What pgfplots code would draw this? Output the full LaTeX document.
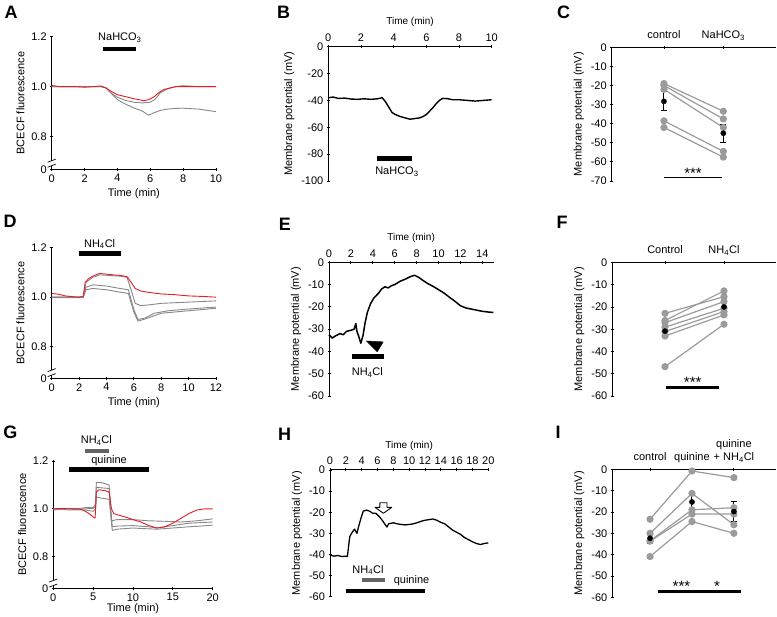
\documentclass[border=0pt]{standalone}
\usepackage{fontspec}
\setmainfont{Liberation Sans}
\usepackage{pgfplots}
\pgfplotsset{compat=1.18}
\newcommand{\fs}{\fontsize{11}{13}\selectfont}
\definecolor{redtr}{RGB}{228,28,36}
\definecolor{graytr}{RGB}{135,135,135}
\definecolor{dotgray}{RGB}{155,155,155}
\definecolor{bargray}{RGB}{100,100,100}
\pgfplotsset{
  pan/.style={scale only axis, clip=false,
    tick style={line width=0.9pt, black},
    tick align=outside, major tick length=3pt,
    /pgf/number format/assume math mode=true,
    tick label style={font=\fs}, label style={font=\fs},
    every axis plot/.append style={line join=round}},
  fluo/.style={pan, axis lines=left, axis line style={draw=none}, ytick={#1,0.8,1.0,1.2},
    yticklabels={0,0.8,1.0,1.2}, ylabel={BCECF fluorescence}, xlabel={Time (min)}},
  memb/.style={pan, axis x line=top, axis y line=left, axis line style={draw=none}, ylabel={Membrane potential (mV)}},
  gtr/.style={graytr, line width=0.9pt},
  rtr/.style={redtr, line width=0.9pt},
  cell/.style={dotgray, line width=1.2pt, mark=*, mark size=3pt, mark options={fill=dotgray, draw=dotgray}},
  meanpt/.style={black, only marks, mark=*, mark size=2.6pt,
    error bars/.cd, y dir=both, y explicit,
    error bar style={black, line width=1pt},
    error mark options={rotate=90, black, mark size=3pt, line width=1pt}},
}
\tikzset{stars/.style={font=\fontsize{15}{15}\selectfont, anchor=base, inner sep=0pt}}
\newcommand{\flines}{\draw[line width=1pt, line cap=rect] (rel axis cs:0,1) -- (rel axis cs:0,0) -- (rel axis cs:1,0);}
\newcommand{\mlines}{\draw[line width=1pt, line cap=rect] (rel axis cs:0,0) -- (rel axis cs:0,1) -- (rel axis cs:1,1);}
\newcommand{\ybreak}[1]{%
  \begin{scope}[shift={(axis cs:0,#1)}]
    \fill[white] (-1.2pt,-2.6pt) rectangle (1.2pt,2.6pt);
    \draw[line width=0.7pt] (-4pt,-4pt)--(4pt,-1pt) (-4pt,1pt)--(4pt,4pt);
  \end{scope}}
\begin{document}
\begin{tikzpicture}
\path[use as bounding box] (0pt,0pt) rectangle (777pt,617pt);
\tikzset{plab/.style={font=\bfseries\fontsize{18}{18}\selectfont}}
\node[plab] at (11pt,604.5pt) {A};
\node[plab] at (283.5pt,605pt) {B};
\node[plab] at (563.5pt,605pt) {C};
\node[plab] at (10pt,395.5pt) {D};
\node[plab] at (285pt,393pt) {E};
\node[plab] at (562pt,395pt) {F};
\node[plab] at (10.5pt,185pt) {G};
\node[plab] at (284.5pt,183pt) {H};
\node[plab] at (558pt,185pt) {I};

% ---------------- A ----------------
\begin{axis}[fluo=0.6696, at={(51.7pt,447.7pt)}, anchor=south west, width=164.3pt, height=132.6pt,
  xmin=0, xmax=10, ymin=0.6696, ymax=1.2, xtick={0,2,...,10}]
\flines
\addplot[gtr] coordinates {(0,1.0) (1,1.0) (2,1.0) (3,1.0) (3.3,0.995) (3.6,0.975) (4,0.948) (4.5,0.93) (5,0.915) (5.5,0.903) (5.9,0.886) (6.2,0.895) (6.6,0.905) (7,0.91) (7.5,0.913) (8,0.914) (8.5,0.912) (9,0.91) (9.5,0.905) (10,0.9)};
\addplot[gtr] coordinates {(0,1.0) (1,1.0) (2,1.0) (3,1.0) (3.3,0.995) (3.6,0.975) (4,0.958) (4.5,0.945) (5,0.938) (5.5,0.935) (6,0.938) (6.3,0.95) (6.6,0.975) (7,0.99) (7.5,1.0) (8,1.004) (8.5,1.002) (9,1.0) (10,1.0)};
\addplot[rtr] coordinates {(0,1.005) (0.5,1.0) (1,1.0) (1.5,1.0) (2,0.998) (2.5,1.0) (3,1.003) (3.3,0.995) (3.6,0.982) (4,0.968) (4.5,0.96) (5,0.952) (5.3,0.948) (5.6,0.944) (5.9,0.948) (6.2,0.958) (6.5,0.975) (6.8,0.988) (7.2,0.995) (7.6,1.0) (8,1.0) (9,1.0) (10,1.0)};
\addplot[black, line width=4.5pt] coordinates {(3.1,1.151) (5.15,1.151)};
\node[font=\fs] at (axis cs:4.15,1.195) {NaHCO\textsubscript{3}};
\ybreak{0.694}
\end{axis}

% ---------------- B ----------------
\begin{axis}[memb, at={(328.3pt,436pt)}, anchor=south west, width=163.4pt, height=134.3pt,
  xmin=0, xmax=10, ymin=-100, ymax=0, xtick={0,2,...,10}, ytick={-100,-80,...,0}, xlabel={Time (min)}]
\mlines
\addplot[black, line width=1.4pt] coordinates {(0,-38) (0.3,-37.5) (0.6,-38.5) (1,-38.3) (1.4,-39) (1.8,-39.2) (2.2,-38.8) (2.6,-39.2) (3,-38.8) (3.3,-38) (3.5,-41) (3.7,-45) (3.9,-49) (4.1,-50.5) (4.4,-52) (4.7,-53) (5,-54) (5.3,-53.5) (5.6,-53) (5.8,-52) (6,-50.5) (6.2,-48) (6.4,-45.5) (6.6,-42.5) (6.8,-40) (7,-38.5) (7.3,-38.7) (7.6,-39.5) (8,-39.5) (8.5,-40) (9,-40.5) (9.5,-40) (10,-39.5)};
\addplot[black, line width=4.5pt] coordinates {(3.0,-83.4) (5.14,-83.4)};
\node[font=\fs] at (axis cs:4.2,-93) {NaHCO\textsubscript{3}};
\end{axis}

% ---------------- C ----------------
\begin{axis}[memb, at={(611.7pt,436pt)}, anchor=south west, width=163.3pt, height=133.7pt,
  xmin=0.12, xmax=2.87, ymin=-70, ymax=0, xtick={1,2}, xticklabels={control\strut,NaHCO\textsubscript{3}\strut}, ytick={-70,-60,...,0}]
\mlines
\addplot[cell] coordinates {(1,-19) (2,-33.5)};
\addplot[cell] coordinates {(1,-20) (2,-37.5)};
\addplot[cell] coordinates {(1,-22) (2,-42)};
\addplot[cell] coordinates {(1,-38.5) (2,-54.5)};
\addplot[cell] coordinates {(1,-42) (2,-57.5)};
\addplot[meanpt] coordinates {(1,-28.3) +- (0,5) (2,-45) +- (0,4.8)};
\addplot[black, line width=1.2pt] coordinates {(1,-68.3) (1.97,-68.3)};
\node[stars] at (axis cs:1.49,-68.6) {***};
\end{axis}

% ---------------- D ----------------
\begin{axis}[fluo=0.672, at={(51.7pt,238.7pt)}, anchor=south west, width=164.3pt, height=130.6pt,
  xmin=0, xmax=12, ymin=0.672, ymax=1.2, xtick={0,2,...,12}]
\flines
\addplot[gtr] coordinates {(0,0.998) (1,0.998) (2,0.998) (2.3,0.999) (2.5,1.03) (3,1.035) (4,1.03) (5,1.02) (5.6,1.015) (6,0.94) (6.3,0.903) (7,0.915) (8,0.935) (9,0.94) (10,0.945) (11,0.95) (12,0.955)};
\addplot[gtr] coordinates {(0,1.0) (1,1.0) (2,1.0) (2.3,1.0) (2.5,1.04) (3,1.05) (4,1.045) (5,1.035) (5.6,1.03) (6,0.95) (6.3,0.91) (6.8,0.915) (7.5,0.935) (8.5,0.945) (10,0.952) (11,0.956) (12,0.96)};
\addplot[gtr] coordinates {(0,1.0) (1,1.0) (2,1.0) (2.3,1.0) (2.5,1.06) (3,1.08) (3.5,1.09) (5,1.085) (5.5,1.08) (5.8,1.03) (6.1,0.975) (6.5,0.966) (7,0.968) (8,0.975) (10,0.98) (12,0.985)};
\addplot[rtr] coordinates {(0,1.015) (0.5,1.012) (1,1.005) (1.5,1.002) (2,1.0) (2.3,1.003) (2.45,1.06) (2.7,1.075) (3,1.085) (3.5,1.096) (4,1.093) (4.5,1.09) (5,1.088) (5.5,1.083) (5.8,1.06) (6.1,1.035) (6.5,1.025) (7,1.02) (8,1.013) (9,1.01) (10,1.005) (11,1.003) (12,1.0)};
\addplot[black, line width=4.5pt] coordinates {(2.0,1.177) (5.04,1.177)};
\node[font=\fs] at (axis cs:3.5,1.215) {NH\textsubscript{4}Cl};
\ybreak{0.695}
\end{axis}

% ---------------- E ----------------
\begin{axis}[memb, at={(329pt,221pt)}, anchor=south west, width=164.3pt, height=133.7pt,
  xmin=0, xmax=15, ymin=-60, ymax=0, xtick={0,2,...,14}, ytick={-60,-50,...,0}, xlabel={Time (min)}]
\mlines
\addplot[black, line width=1.5pt] coordinates {(0,-32.5) (0.3,-34) (0.6,-33) (1,-32) (1.3,-32.5) (1.6,-31) (2,-30.5) (2.3,-30) (2.45,-27.5) (2.55,-31) (2.7,-33) (2.9,-36.3) (3.1,-33) (3.3,-27) (3.5,-22.5) (3.8,-18.5) (4.1,-16) (4.5,-14) (4.8,-12) (5.1,-11) (5.4,-11.5) (5.7,-10.5) (6,-10) (6.5,-8.5) (7,-7.5) (7.4,-6.5) (7.8,-5.8) (8.2,-6.8) (8.6,-8.2) (9,-9.5) (9.5,-10.8) (10,-12.3) (10.5,-13.8) (11,-15.7) (11.5,-17.5) (12,-19.5) (12.5,-20.5) (13,-21) (13.5,-21.5) (14,-22) (14.5,-22.3) (15,-22.5)};
\addplot[black, fill=black] coordinates {(3.4,-35.3) (4.95,-35.7) (4.4,-40.2) (3.4,-35.3)};
\addplot[black, line width=4.5pt] coordinates {(2.07,-42.2) (5.0,-42.2)};
\node[font=\fs] at (axis cs:3.5,-49.5) {NH\textsubscript{4}Cl};
\end{axis}

% ---------------- F ----------------
\begin{axis}[memb, at={(612.3pt,221pt)}, anchor=south west, width=162.7pt, height=133.3pt,
  xmin=0.107, xmax=2.864, ymin=-60, ymax=0, xtick={1,2}, xticklabels={Control\strut,NH\textsubscript{4}Cl\strut}, ytick={-60,-50,...,0}]
\mlines
\addplot[cell] coordinates {(1,-22.8) (2,-15.3)};
\addplot[cell] coordinates {(1,-26) (2,-12.7)};
\addplot[cell] coordinates {(1,-27) (2,-17.5)};
\addplot[cell] coordinates {(1,-29) (2,-20.5)};
\addplot[cell] coordinates {(1,-31) (2,-22)};
\addplot[cell] coordinates {(1,-33) (2,-23.5)};
\addplot[cell] coordinates {(1,-46.8) (2,-27.7)};
\addplot[meanpt] coordinates {(1,-30.8) +- (0,2.6) (2,-19.9) +- (0,2.0)};
\addplot[black, line width=2.2pt] coordinates {(1.01,-56.2) (1.92,-56.2)};
\node[stars] at (axis cs:1.47,-56.2) {***};
\end{axis}

% ---------------- G ----------------
\begin{axis}[fluo=0.668, at={(53.3pt,28.7pt)}, anchor=south west, width=159.4pt, height=127.3pt,
  xmin=0, xmax=20, ymin=0.668, ymax=1.2, xtick={0,5,...,20}, xlabel shift=-4pt]
\flines
\addplot[gtr] coordinates {(0,0.995) (1,0.998) (2,0.995) (3,0.996) (4,0.995) (5,0.99) (5.3,1.0) (5.4,1.05) (6,1.045) (7,1.04) (7.4,0.91) (8,0.915) (10,0.92) (11,0.918) (13,0.915) (15,0.92) (17,0.925) (18.5,0.928) (20,0.932)};
\addplot[gtr] coordinates {(0,1.0) (1,1.0) (2,1.0) (3,0.998) (4,1.0) (5,1.002) (5.3,1.01) (5.4,1.09) (6,1.088) (7,1.085) (7.4,0.925) (8,0.928) (10,0.93) (12,0.925) (13,0.92) (15,0.93) (17,0.94) (20,0.945)};
\addplot[gtr] coordinates {(0,1.0) (1,1.0) (2,1.002) (3,1.0) (4,1.005) (5,1.005) (5.3,1.02) (5.4,1.11) (6,1.11) (7,1.1) (7.3,0.95) (8,0.955) (10,0.955) (12,0.95) (14,0.948) (16,0.945) (18,0.95) (20,0.958)};
\addplot[rtr] coordinates {(0,1.0) (1,1.002) (2,1.0) (3,1.0) (3.5,0.998) (4,0.99) (4.5,0.98) (5,0.966) (5.25,0.962) (5.4,1.07) (5.7,1.08) (6.5,1.076) (7,1.07) (7.3,1.0) (7.6,0.98) (8,0.976) (9,0.966) (10,0.955) (11,0.945) (12,0.93) (13,0.92) (14,0.925) (15,0.94) (16,0.96) (17,0.98) (18,0.995) (19,1.0) (20,1.0)};
\addplot[bargray, line width=4pt] coordinates {(4,1.242) (7,1.242)};
\addplot[black, line width=4.5pt] coordinates {(2,1.165) (12,1.165)};
\node[font=\fs] at (axis cs:5.4,1.285) {NH\textsubscript{4}Cl};
\node[font=\fs] at (axis cs:7,1.2) {quinine};
\ybreak{0.69}
\end{axis}

% ---------------- H ----------------
\begin{axis}[memb, at={(330pt,20.3pt)}, anchor=south west, width=158.3pt, height=126.7pt,
  xmin=0, xmax=20, ymin=-60, ymax=0, xtick={0,2,...,20}, ytick={-60,-50,...,0}, xlabel={Time (min)}]
\mlines
\addplot[black, line width=1.3pt] coordinates {(0,-40.3) (0.5,-40.8) (1,-40.5) (1.5,-41) (2,-40.8) (2.2,-41) (2.35,-36) (2.5,-31.5) (2.8,-29.5) (3.1,-28) (3.4,-30) (3.6,-27) (3.9,-23) (4.2,-19.5) (4.6,-19) (5,-19.5) (5.4,-20.5) (5.8,-20.5) (6.2,-22) (6.6,-23.8) (7,-26) (7.2,-27) (7.4,-25.5) (8,-25) (8.5,-25.5) (9,-25.8) (9.5,-26) (10,-25.8) (10.5,-25.5) (11,-25) (11.5,-24.3) (12,-23.8) (12.5,-23.5) (13,-23.2) (13.5,-23.8) (14,-24.8) (14.5,-25.5) (15,-27) (15.5,-28.5) (16,-29.5) (16.5,-30.5) (17,-32) (17.5,-33) (18,-34) (18.5,-34.8) (19,-35.3) (19.5,-34.8) (20,-34.5)};
\addplot[black, fill=white, line width=0.9pt] coordinates {(6.3,-15.5) (7.2,-15.5) (7.2,-17.7) (7.8,-17.7) (6.75,-20.5) (5.7,-17.7) (6.3,-17.7) (6.3,-15.5)};
\addplot[bargray, line width=4pt] coordinates {(4,-52.1) (7,-52.1)};
\addplot[black, line width=4.5pt] coordinates {(2,-57.3) (12,-57.3)};
\node[font=\fs] at (axis cs:4.8,-47.4) {NH\textsubscript{4}Cl};
\node[font=\fs] at (axis cs:10.3,-52.6) {quinine};
\end{axis}

% ---------------- I ----------------
\begin{axis}[memb, at={(612.3pt,19.7pt)}, anchor=south west, width=162.7pt, height=128pt,
  xmin=0.1, xmax=3.98, ymin=-60, ymax=0, xtick={1,2,3},
  xticklabels={control\strut,quinine\strut,{quinine\\+ NH\textsubscript{4}Cl\strut}}, xticklabel style={align=center},
  ytick={-60,-50,...,0}]
\mlines
\addplot[cell] coordinates {(1,-23.4) (2,-0.8) (3,-3.9)};
\addplot[cell] coordinates {(1,-30) (2,-11.3) (3,-26)};
\addplot[cell] coordinates {(1,-33.5) (2,-19) (3,-18)};
\addplot[cell] coordinates {(1,-33.7) (2,-21) (3,-21)};
\addplot[cell] coordinates {(1,-40.9) (2,-24.5) (3,-30)};
\addplot[meanpt] coordinates {(1,-32.3) +- (0,2.5) (2,-15.3) +- (0,4) (3,-19.8) +- (0,4.5)};
\addplot[black, line width=2.2pt] coordinates {(1.2,-57.3) (2.18,-57.3)};
\addplot[black, line width=2.2pt] coordinates {(2.2,-57.3) (3.18,-57.3)};
\node[stars] at (axis cs:1.75,-57.3) {***};
\node[stars] at (axis cs:2.6,-57.3) {*};
\end{axis}
\end{tikzpicture}
\end{document}
